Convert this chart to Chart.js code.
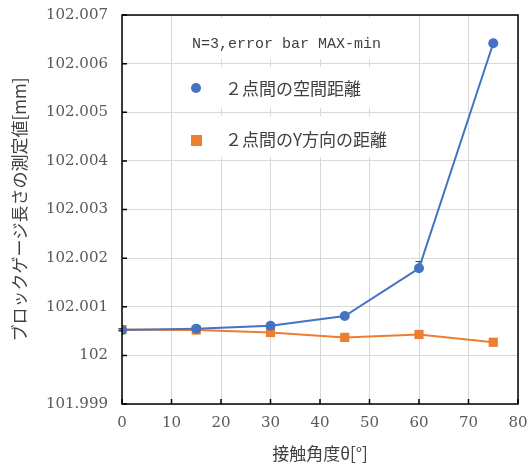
<!DOCTYPE html>
<html><head><meta charset="utf-8">
<script src="https://cdn.jsdelivr.net/npm/chart.js@4.4.1/dist/chart.umd.min.js"></script>
<style>html,body{margin:0;padding:0;background:#fff}#wrap{width:530px;height:464px}</style>
</head><body><div id="wrap"><canvas id="c" width="530" height="464"></canvas></div>
<script>
const angles = [0, 15, 30, 45, 60, 75];
const spatialDist = [102.00052, 102.00055, 102.00061, 102.00081, 102.00179, 102.00642];
const yDirDist    = [102.00053, 102.00052, 102.00047, 102.00037, 102.00043, 102.00027];
const spatialErrUp   = [0.00002, 0.00002, 0.00003, 0.00003, 0.00014, 0.00004];
const spatialErrDown = [0.00002, 0.00002, 0.00003, 0.00003, 0.00004, 0.00004];
const yDirErrUp      = [0.00002, 0.00002, 0.00002, 0.00002, 0.00002, 0.00002];
const yDirErrDown    = [0.00002, 0.00002, 0.00002, 0.00002, 0.00002, 0.00002];
const seriesNames = ['２点間の空間距離', '２点間のY方向の距離'];
const legendTitle = 'N=3,error bar MAX-min';
const xTitle = '接触角度θ[°]';
const yTitle = 'ブロックゲージ長さの測定値[mm]';

const serif = "'DejaVu Serif', 'Liberation Serif', serif";
const cjk = "'Noto Sans CJK JP', sans-serif";

const toXY = (xs, ys) => xs.map((x, i) => ({x, y: ys[i]}));

const framePlugin = {
  id: 'frame',
  beforeDatasetsDraw(chart) {
    const {ctx, chartArea: a, scales: {x, y}} = chart;
    const errs = [[spatialDist, spatialErrUp, spatialErrDown], [yDirDist, yDirErrUp, yDirErrDown]];
    ctx.save();
    ctx.strokeStyle = '#404040'; ctx.lineWidth = 1;
    errs.forEach(([vals, up, dn]) => {
      vals.forEach((v, i) => {
        const px = x.getPixelForValue(angles[i]);
        const t = y.getPixelForValue(v + up[i]);
        const b = y.getPixelForValue(v - dn[i]);
        ctx.beginPath();
        ctx.moveTo(px, t); ctx.lineTo(px, b);
        ctx.moveTo(px - 3.5, t); ctx.lineTo(px + 3.5, t);
        ctx.moveTo(px - 3.5, b); ctx.lineTo(px + 3.5, b);
        ctx.stroke();
      });
    });
    ctx.fillStyle = '#fff';
    ctx.fillRect(176, 18, 240, 41);
    ctx.fillRect(176, 67, 240, 41);
    ctx.fillRect(176, 116, 240, 41);
    ctx.fillStyle = '#404040';
    ctx.textBaseline = 'middle';
    ctx.textAlign = 'left';
    ctx.font = "15px 'Liberation Mono', monospace";
    ctx.fillText(legendTitle, 192, 44);
    ctx.font = '17px ' + cjk;
    const ds = chart.data.datasets;
    ctx.fillText(ds[0].label, 225, 89);
    ctx.fillText(ds[1].label, 225, 140);
    ctx.fillStyle = ds[0].backgroundColor;
    ctx.beginPath(); ctx.arc(196, 88, 5, 0, Math.PI * 2); ctx.fill();
    ctx.fillStyle = ds[1].backgroundColor;
    ctx.fillRect(191, 135, 11, 11);
    ctx.restore();
  },
  afterDraw(chart) {
    const {ctx, chartArea: a, scales: {x, y}} = chart;
    ctx.save();
    ctx.strokeStyle = '#000'; ctx.lineWidth = 1.5;
    ctx.beginPath();
    x.ticks.forEach(t => {
      const px = x.getPixelForValue(t.value);
      ctx.moveTo(px, a.bottom); ctx.lineTo(px, a.bottom - 5);
    });
    y.ticks.forEach(t => {
      const py = y.getPixelForValue(t.value);
      ctx.moveTo(a.left, py); ctx.lineTo(a.left + 5, py);
    });
    ctx.stroke();
    ctx.strokeRect(a.left, a.top, a.right - a.left, a.bottom - a.top);
    ctx.restore();
  }
};

new Chart(document.getElementById('c'), {
  type: 'scatter',
  data: {
    datasets: [
      { label: seriesNames[0], data: toXY(angles, spatialDist), showLine: true,
        borderColor: '#4472C4', backgroundColor: '#4472C4', borderWidth: 2,
        pointStyle: 'circle', pointRadius: 5, pointHoverRadius: 5, pointBorderWidth: 0 },
      { label: seriesNames[1], data: toXY(angles, yDirDist), showLine: true,
        borderColor: '#ED7D31', backgroundColor: '#ED7D31', borderWidth: 2,
        pointStyle: 'rect', pointRadius: 6.5, pointHoverRadius: 6.5, pointBorderWidth: 0 }
    ]
  },
  options: {
    responsive: false, animation: false,
    layout: { padding: { left: 0, right: 12, top: 15, bottom: 0 } },
    plugins: { legend: { display: false }, tooltip: { enabled: false } },
    scales: {
      x: {
        type: 'linear', min: 0, max: 80,
        ticks: { stepSize: 10, color: '#595959', font: { family: serif, size: 15 }, padding: 10 },
        grid: { color: '#d9d9d9', lineWidth: 1, drawTicks: false },
        border: { display: false },
        title: { display: true, text: xTitle, color: '#404040', font: { family: cjk, size: 17 }, padding: { top: 4, bottom: 0 } },
        afterFit(s) { s.height = 60; s.paddingLeft = 0; s.paddingRight = 0; }
      },
      y: {
        min: 101.999, max: 102.007,
        ticks: { stepSize: 0.001, color: '#595959', font: { family: serif, size: 15 }, padding: 14,
          callback: v => String(Number(v.toFixed(3))) },
        grid: { color: '#d9d9d9', lineWidth: 1, drawTicks: false },
        border: { display: false },
        title: { display: true, text: yTitle, color: '#404040', font: { family: cjk, size: 17 }, padding: { top: 9, bottom: 4 } },
        afterFit(s) { s.width = 122; s.paddingTop = 0; s.paddingBottom = 0; }
      }
    }
  },
  plugins: [framePlugin]
});
</script></body></html>
